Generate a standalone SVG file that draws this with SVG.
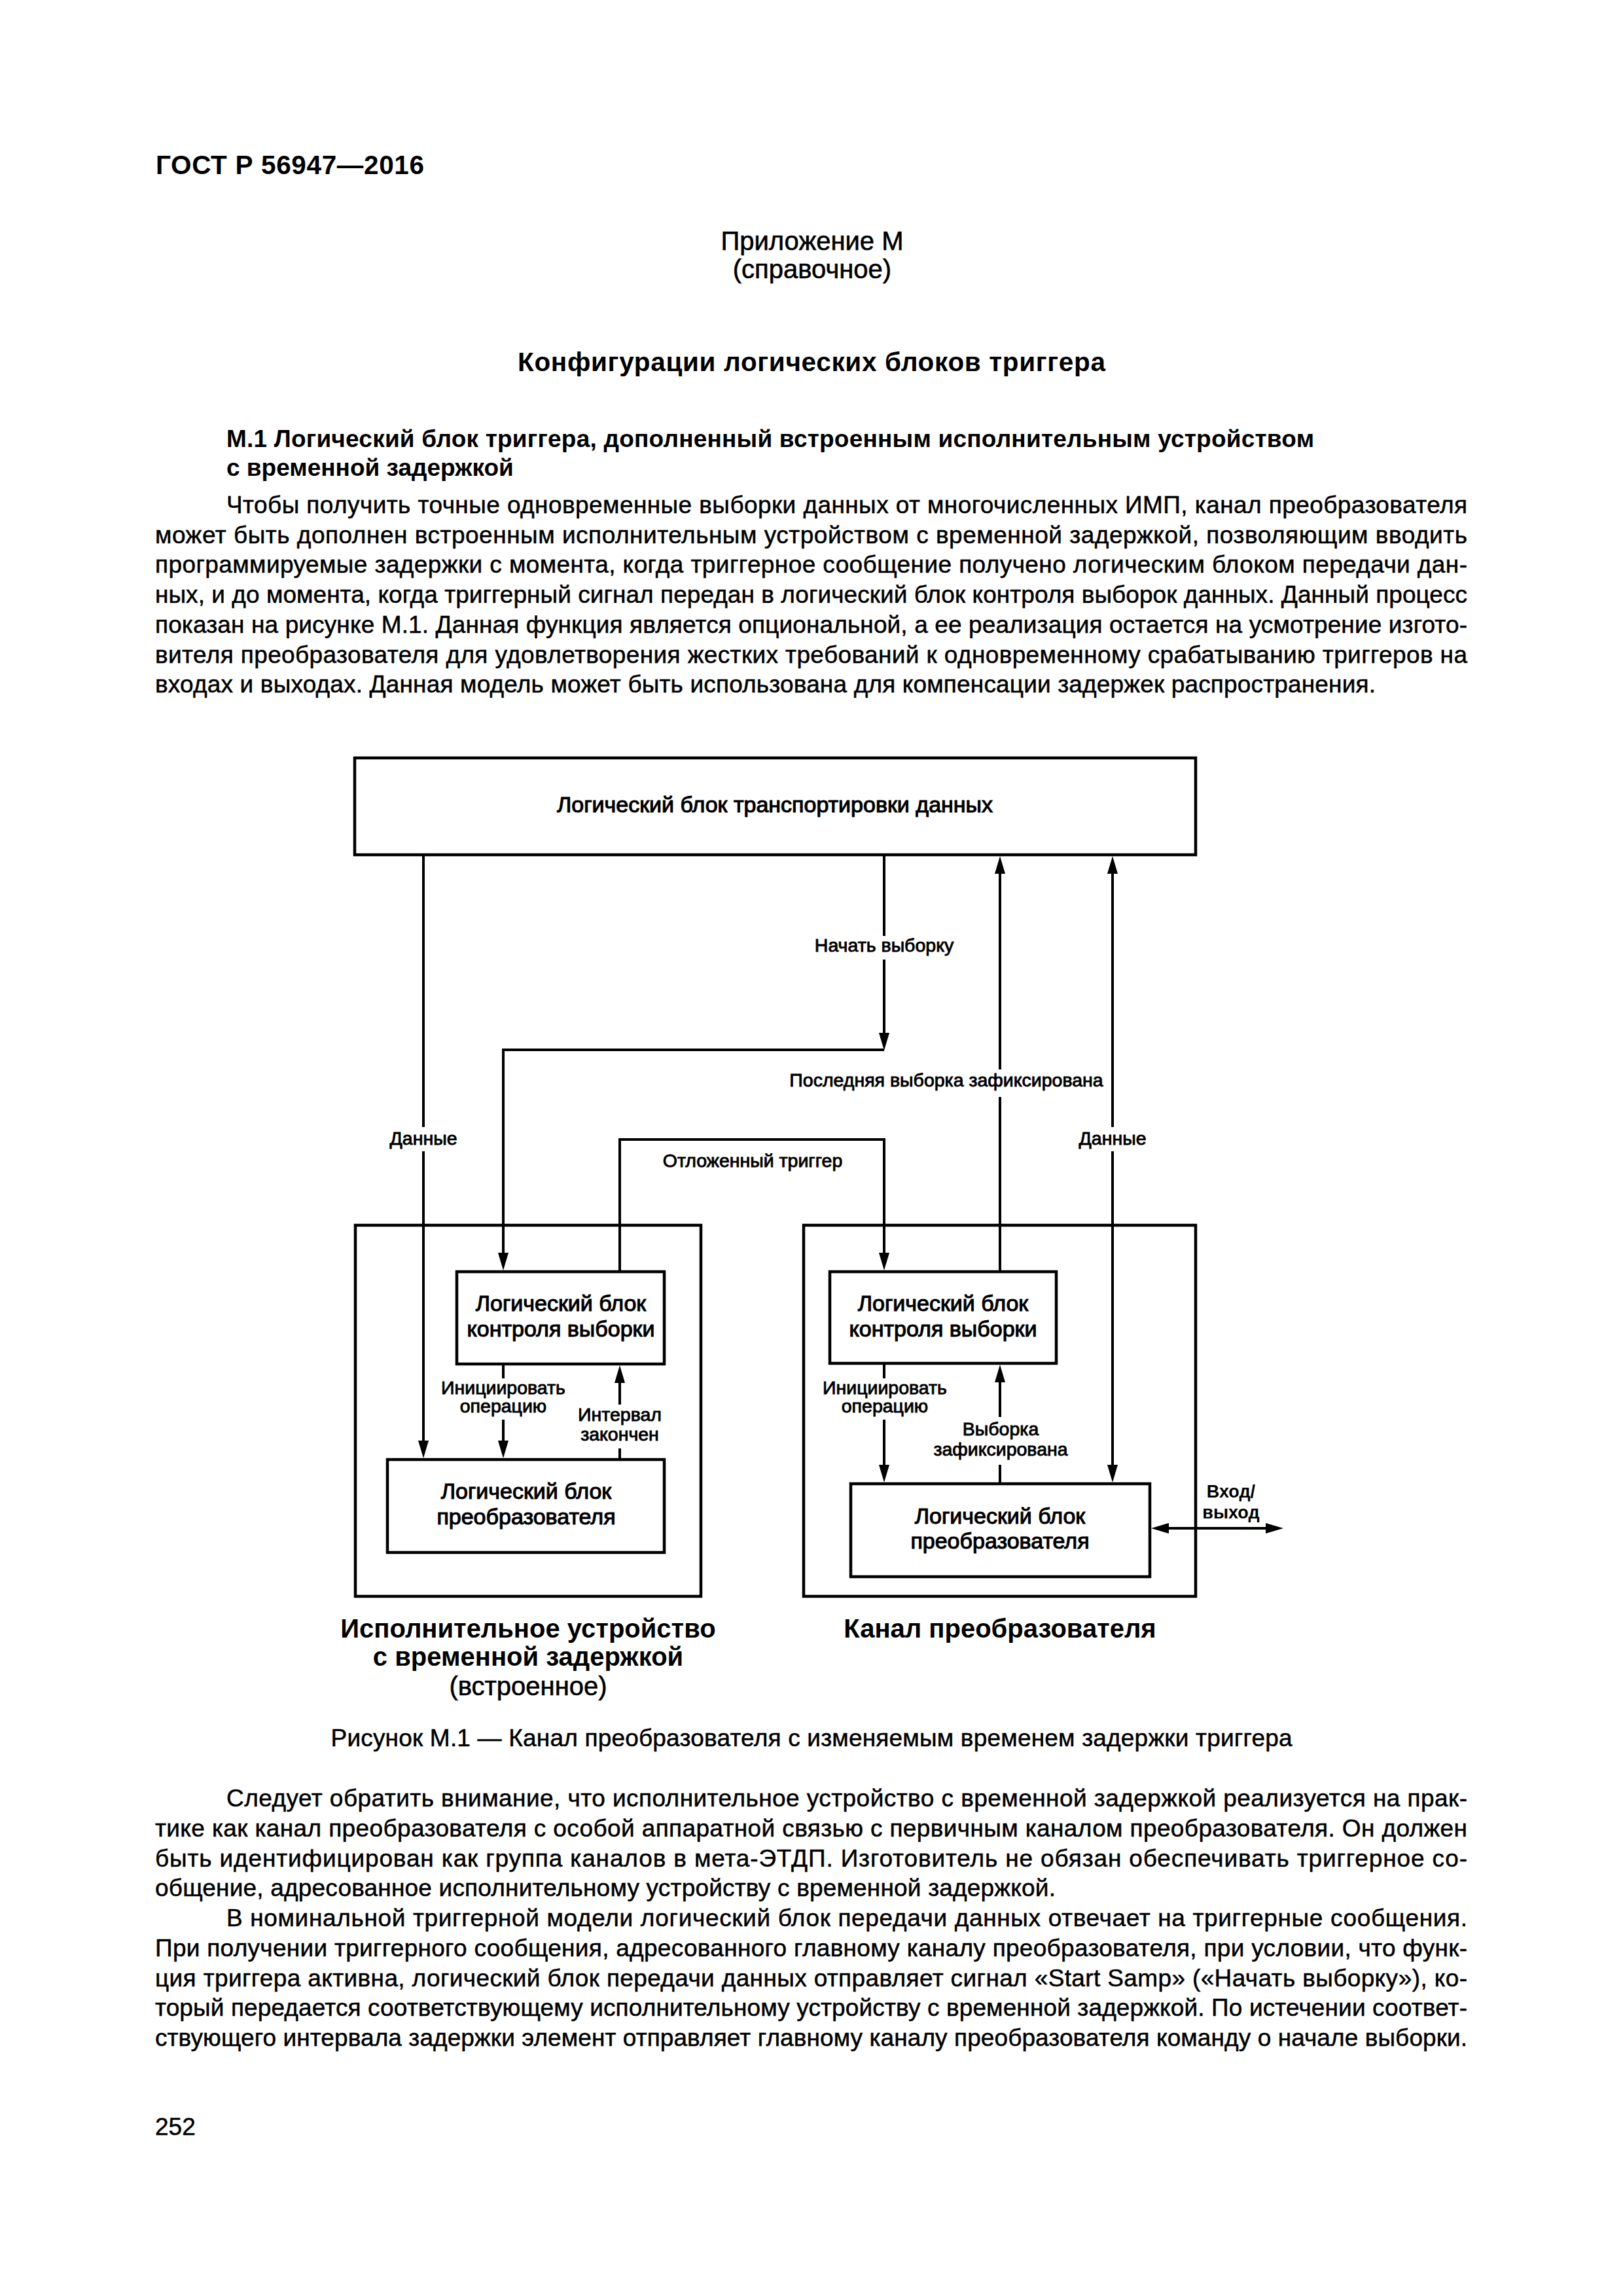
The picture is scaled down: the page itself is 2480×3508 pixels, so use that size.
<svg xmlns="http://www.w3.org/2000/svg" xmlns:xlink="http://www.w3.org/1999/xlink" width="2480" height="3508" viewBox="0 0 2480 3508">
<style>
text{font-family:"Liberation Sans",Arial,sans-serif;fill:#000}
.h{font-size:40.5px;font-weight:bold}
.app{font-size:40px;text-anchor:middle;stroke:#000;stroke-width:0.6}
.ti{font-size:40.5px;font-weight:bold;text-anchor:middle}
.sh{font-size:37px;font-weight:bold}
.b{font-size:37px;stroke:#000;stroke-width:0.5}
.cap{font-size:37px;text-anchor:middle;stroke:#000;stroke-width:0.5}
.bx{font-size:34px;text-anchor:middle;stroke:#000;stroke-width:1.1}
.lb{font-size:28.5px;text-anchor:middle;stroke:#000;stroke-width:0.9}
.lbb{font-size:27px;font-weight:bold;text-anchor:middle}
.gl{font-size:40px;font-weight:bold;text-anchor:middle}
.gr{font-size:40px;text-anchor:middle;stroke:#000;stroke-width:0.6}
.box{fill:none;stroke:#000;stroke-width:4.5}
.cn{fill:none;stroke:#000;stroke-width:4}
</style>
<defs>
<path id="ah" d="M0,0 L-8,-27 L8,-27 Z" fill="#000"/>
</defs>
<rect width="2480" height="3508" fill="#fff"/>

<g id="page-text">
<text class="h" x="238" y="266" textLength="410" lengthAdjust="spacing">ГОСТ Р 56947—2016</text>
<text class="app" x="1241" y="382">Приложение М</text>
<text class="app" x="1241" y="425">(справочное)</text>
<text class="ti" x="1240" y="567" textLength="898" lengthAdjust="spacing">Конфигурации логических блоков триггера</text>
<text class="sh" x="346" y="683" textLength="1662" lengthAdjust="spacing">М.1 Логический блок триггера, дополненный встроенным исполнительным устройством</text>
<text class="sh" x="346" y="727">с временной задержкой</text>

<text class="b" x="346" y="784" textLength="1896" lengthAdjust="spacing">Чтобы получить точные одновременные выборки данных от многочисленных ИМП, канал преобразователя</text>
<text class="b" x="237" y="830" textLength="2005" lengthAdjust="spacing">может быть дополнен встроенным исполнительным устройством с временной задержкой, позволяющим вводить</text>
<text class="b" x="237" y="875" textLength="2005" lengthAdjust="spacing">программируемые задержки с момента, когда триггерное сообщение получено логическим блоком передачи дан-</text>
<text class="b" x="237" y="921" textLength="2005" lengthAdjust="spacing">ных, и до момента, когда триггерный сигнал передан в логический блок контроля выборок данных. Данный процесс</text>
<text class="b" x="237" y="967" textLength="2005" lengthAdjust="spacing">показан на рисунке М.1. Данная функция является опциональной, а ее реализация остается на усмотрение изгото-</text>
<text class="b" x="237" y="1013" textLength="2005" lengthAdjust="spacing">вителя преобразователя для удовлетворения жестких требований к одновременному срабатыванию триггеров на</text>
<text class="b" x="237" y="1058" textLength="1865" lengthAdjust="spacing">входах и выходах. Данная модель может быть использована для компенсации задержек распространения.</text>

<text class="cap" x="1240" y="2668" textLength="1469" lengthAdjust="spacing">Рисунок М.1 — Канал преобразователя с изменяемым временем задержки триггера</text>

<text class="b" x="346" y="2760" textLength="1896" lengthAdjust="spacing">Следует обратить внимание, что исполнительное устройство с временной задержкой реализуется на прак-</text>
<text class="b" x="237" y="2806" textLength="2005" lengthAdjust="spacing">тике как канал преобразователя с особой аппаратной связью с первичным каналом преобразователя. Он должен</text>
<text class="b" x="237" y="2852" textLength="2005" lengthAdjust="spacing">быть идентифицирован как группа каналов в мета-ЭТДП. Изготовитель не обязан обеспечивать триггерное со-</text>
<text class="b" x="237" y="2897" textLength="1376" lengthAdjust="spacing">общение, адресованное исполнительному устройству с временной задержкой.</text>

<text class="b" x="346" y="2943" textLength="1896" lengthAdjust="spacing">В номинальной триггерной модели логический блок передачи данных отвечает на триггерные сообщения.</text>
<text class="b" x="237" y="2989" textLength="2005" lengthAdjust="spacing">При получении триггерного сообщения, адресованного главному каналу преобразователя, при условии, что функ-</text>
<text class="b" x="237" y="3035" textLength="2005" lengthAdjust="spacing">ция триггера активна, логический блок передачи данных отправляет сигнал «Start Samp» («Начать выборку»), ко-</text>
<text class="b" x="237" y="3080" textLength="2005" lengthAdjust="spacing">торый передается соответствующему исполнительному устройству с временной задержкой. По истечении соответ-</text>
<text class="b" x="237" y="3126" textLength="2005" lengthAdjust="spacing">ствующего интервала задержки элемент отправляет главному каналу преобразователя команду о начале выборки.</text>

<text class="b" x="237" y="3262">252</text>
</g>

<g id="node-transport">
<rect class="box" x="542" y="1158" width="1285" height="148"/>
<text class="bx" x="1184" y="1241">Логический блок транспортировки данных</text>
</g>

<g id="node-delay-device">
<rect class="box" x="543" y="1872" width="528" height="567"/>
<text class="gl" x="807" y="2502">Исполнительное устройство</text>
<text class="gl" x="807" y="2545">с временной задержкой</text>
<text class="gr" x="807" y="2590">(встроенное)</text>
</g>

<g id="node-channel">
<rect class="box" x="1228" y="1872" width="599" height="567"/>
<text class="gl" x="1528" y="2502">Канал преобразователя</text>
</g>

<g id="node-left-control">
<rect class="box" x="698" y="1943" width="317" height="141"/>
<text class="bx" x="857" y="2003">Логический блок</text>
<text class="bx" x="857" y="2042">контроля выборки</text>
</g>

<g id="node-left-converter">
<rect class="box" x="592" y="2230" width="423" height="142"/>
<text class="bx" x="804" y="2290">Логический блок</text>
<text class="bx" x="804" y="2329">преобразователя</text>
</g>

<g id="node-right-control">
<rect class="box" x="1268" y="1943" width="346" height="140"/>
<text class="bx" x="1441" y="2003">Логический блок</text>
<text class="bx" x="1441" y="2042">контроля выборки</text>
</g>

<g id="node-right-converter">
<rect class="box" x="1300" y="2267" width="457" height="142"/>
<text class="bx" x="1528" y="2328">Логический блок</text>
<text class="bx" x="1528" y="2366">преобразователя</text>
</g>

<g id="connectors">
<path class="cn" d="M647,1306 V1722 M647,1759 V2215"/>
<use xlink:href="#ah" href="#ah" transform="translate(647,2228)"/>
<text class="lb" x="647" y="1749">Данные</text>

<path class="cn" d="M1351,1306 V1430 M1351,1466 V1595"/>
<use xlink:href="#ah" href="#ah" transform="translate(1351,1605)"/>
<text class="lb" x="1351" y="1454">Начать выборку</text>
<path class="cn" d="M1351,1604 H769 V1930"/>
<use xlink:href="#ah" href="#ah" transform="translate(769,1941)"/>

<path class="cn" d="M947,1943 V1741 H1351 V1930"/>
<use xlink:href="#ah" href="#ah" transform="translate(1351,1941)"/>
<text class="lb" x="1150" y="1783">Отложенный триггер</text>

<path class="cn" d="M1528,1941 V1676 M1528,1634 V1320"/>
<use xlink:href="#ah" href="#ah" transform="translate(1528,1308) rotate(180)"/>
<text class="lb" x="1446" y="1660">Последняя выборка зафиксирована</text>

<path class="cn" d="M1700,1320 V1722 M1700,1759 V2252"/>
<use xlink:href="#ah" href="#ah" transform="translate(1700,1308) rotate(180)"/>
<use xlink:href="#ah" href="#ah" transform="translate(1700,2265)"/>
<text class="lb" x="1700" y="1749">Данные</text>

<path class="cn" d="M769,2084 V2106 M769,2169 V2215"/>
<use xlink:href="#ah" href="#ah" transform="translate(769,2228)"/>
<text class="lb" x="769" y="2130">Инициировать</text>
<text class="lb" x="769" y="2158">операцию</text>

<path class="cn" d="M947,2230 V2213 M947,2146 V2098"/>
<use xlink:href="#ah" href="#ah" transform="translate(947,2086) rotate(180)"/>
<text class="lb" x="947" y="2171">Интервал</text>
<text class="lb" x="947" y="2201">закончен</text>

<path class="cn" d="M1351,2083 V2106 M1351,2169 V2252"/>
<use xlink:href="#ah" href="#ah" transform="translate(1351,2265)"/>
<text class="lb" x="1352" y="2130">Инициировать</text>
<text class="lb" x="1352" y="2158">операцию</text>

<path class="cn" d="M1528,2267 V2238 M1528,2165 V2097"/>
<use xlink:href="#ah" href="#ah" transform="translate(1528,2085) rotate(180)"/>
<text class="lb" x="1529" y="2193">Выборка</text>
<text class="lb" x="1529" y="2224">зафиксирована</text>

<path class="cn" d="M1770,2335 H1948"/>
<use xlink:href="#ah" href="#ah" transform="translate(1759,2335) rotate(90)"/>
<use xlink:href="#ah" href="#ah" transform="translate(1961,2335) rotate(-90)"/>
<text class="lbb" x="1881" y="2288">Вход/</text>
<text class="lbb" x="1881" y="2320">выход</text>
</g>
</svg>
